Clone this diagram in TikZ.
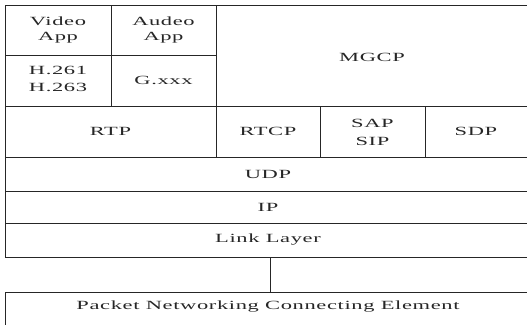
\documentclass[tikz,border=0pt]{standalone}
\usepackage{fontspec}
\setmainfont{Liberation Serif}[FakeStretch=1.8,LetterSpace=5]
\begin{document}
\begin{tikzpicture}[x=1pt,y=-1pt,
  cell/.style={draw=black!85,line width=0.9pt},
  lbl/.style={font=\fontsize{12.5}{15.5}\selectfont,align=center,text=black!85,inner sep=0pt}]
\useasboundingbox (0,0) rectangle (527,324);
\begin{scope}
\clip (0,0) rectangle (527,324);
% top block
\draw[cell] (5,5) rectangle (111,55);
\draw[cell] (111,5) rectangle (216,55);
\draw[cell] (5,55) rectangle (111,106);
\draw[cell] (111,55) rectangle (216,106);
\draw[cell] (216,5) rectangle (530,106);
% RTP row
\draw[cell] (5,106) rectangle (216,157);
\draw[cell] (216,106) rectangle (320,157);
\draw[cell] (320,106) rectangle (425,157);
\draw[cell] (425,106) rectangle (530,157);
% bottom rows
\draw[cell] (5,157) rectangle (530,191);
\draw[cell] (5,191) rectangle (530,223);
\draw[cell] (5,223) rectangle (530,257);
\draw[cell] (5,292) rectangle (530,340);
\end{scope}
\node[lbl] (video) at (58,30) {Video\\App};
\node[lbl] (audio) at (163.5,30) {Audeo\\App};
\node[lbl,font=\fontsize{12.5}{17}\selectfont] (h26x) at (58,79) {H.261\\H.263};
\node[lbl] (gxxx) at (163.5,80.5) {G.xxx};
\node[lbl] (mgcp) at (372,57) {MGCP};
\node[lbl] (rtp) at (110.5,131.5) {RTP};
\node[lbl] (rtcp) at (268,131.5) {RTCP};
\node[lbl,font=\fontsize{12.5}{18}\selectfont] (sap) at (372.5,132) {SAP\\SIP};
\node[lbl] (sdp) at (476,131.5) {SDP};
\node[lbl] (udp) at (268,174) {UDP};
\node[lbl] (ip) at (268,207) {IP};
\node[lbl] (link) at (268,240) {Link Layer};
\coordinate (lbot) at (270,257);
\coordinate (ptop) at (270,292);
\draw[cell] (lbot) -- (ptop);
\node[lbl] (pkt) at (268,306.5) {Packet Networking Connecting Element};
\end{tikzpicture}
\end{document}
